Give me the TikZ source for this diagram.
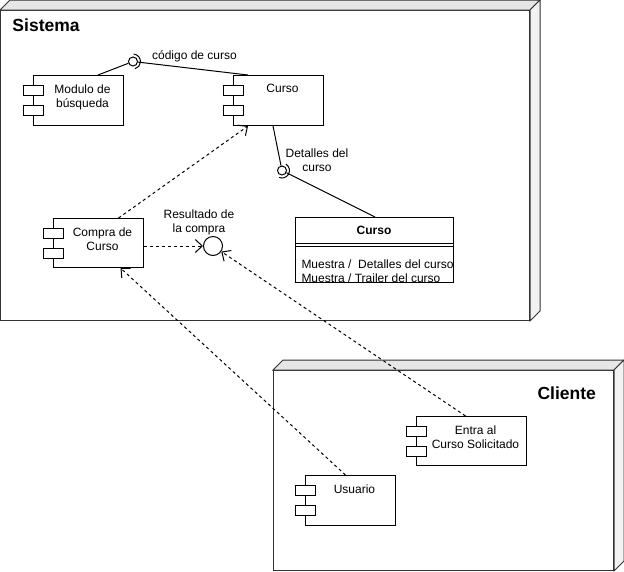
\documentclass[tikz,border=0pt]{standalone}
\usepackage{fontspec}
\setmainfont{Liberation Sans}
\usetikzlibrary{calc,arrows.meta}
\definecolor{topface}{HTML}{E6E6E6}
\definecolor{sideface}{HTML}{F2F2F2}
\definecolor{edge}{HTML}{333333}

% component: name, left x, top y, width, height, label
\newcommand\umlcomp[6]{%
  \node[box, anchor=north west, minimum width=#4pt, minimum height=#5pt] (#1) at (#2,#3) {};
  \node[tab] (#1-t1) at ($(#1.north west)+(0,15)$) {};
  \node[tab] (#1-t2) at ($(#1.north west)+(0,35)$) {};
  \node[txt, anchor=north] (#1-l) at ($(#1.north)+(4,9)$) {#6};
}

% 3D node: name, left x, top y of front face, width, height, depth
\newcommand\umlnode[6]{%
  \node[box, draw=edge, anchor=north west, minimum width=#4pt, minimum height=#5pt] (#1) at (#2,#3) {};
  \filldraw[fill=topface, draw=edge] (#1.north west) -- ++(#6,-#6) -- ($(#1.north east)+(#6,-#6)$) -- (#1.north east) -- cycle;
  \filldraw[fill=sideface, draw=edge] (#1.north east) -- ++(#6,-#6) -- ($(#1.south east)+(#6,-#6)$) -- (#1.south east) -- cycle;
}

\begin{document}
\begin{tikzpicture}[x=1pt, y=-1pt, line width=1pt,
  txt/.style={font=\fontsize{12}{14}\selectfont, inner sep=0pt, align=center},
  title/.style={font=\fontsize{17.5}{20}\selectfont\bfseries, inner sep=0pt},
  box/.style={draw, fill=white, rectangle, inner sep=0pt},
  tab/.style={draw, fill=white, rectangle, minimum width=20pt, minimum height=10pt, inner sep=0pt},
  ball/.style={draw, circle, fill=white, inner sep=0pt},
  dep/.style={dash pattern=on 3pt off 3pt, -{Straight Barb[length=7pt,width=13pt]}}]

\useasboundingbox (0,0) rectangle (624,571);

% deployment nodes
\umlnode{sistema}{0}{10}{529}{310}{10}
\node[title, anchor=base west] (sistema-l) at (12,31) {Sistema};
\umlnode{cliente}{273}{370}{340}{200}{10}
\node[title, anchor=base west] (cliente-l) at (537,399) {Cliente};

% components
\umlcomp{mod}{33}{75}{90}{50}{Modulo de\\búsqueda}
\umlcomp{cur}{233}{75}{90}{50}{Curso}
\umlcomp{comp}{53}{218}{90}{49}{Compra de\\Curso}
\umlcomp{ent}{416}{416}{110}{49}{Entra al\\Curso Solicitado}
\umlcomp{usr}{305}{475}{90}{50}{Usuario}

% class
\node[box, anchor=north west, minimum width=158pt, minimum height=65pt] (cls) at (295,217) {};
\node[txt, font=\fontsize{12}{14}\selectfont\bfseries] (cls-h) at (374,230.5) {Curso};
\draw ($(cls.north west)+(0,26)$) -- ($(cls.north east)+(0,26)$);
\draw ($(cls.north west)+(0,29)$) -- ($(cls.north east)+(0,29)$);
\node[txt, align=left, anchor=north west] (cls-a) at (301,259)
  {Muestra /\ \ Detalles del curso\\Muestra / Trailer del curso};

% interface: código de curso
\node[ball, minimum size=9pt] (b1) at (133,61.5) {};
\draw ($(mod.north west)+(65,0)$) -- (b1);
\draw (b1) -- ($(cur.north west)+(15,0)$);
\draw ($(b1)+(-85:7.5)$) arc[start angle=-85, end angle=75, radius=7.5];
\node[txt, anchor=base] (b1-l) at (194.5,59.5) {código de curso};

% interface: Detalles del curso
\node[ball, minimum size=9pt] (b2) at (282,170.5) {};
\draw ($(cur.south west)+(40,0)$) -- (b2);
\draw (b2) -- ($(cls.north west)+(80,0)$);
\draw ($(b2)+(-58:7.5)$) arc[start angle=-58, end angle=112, radius=7.5];
\node[txt, anchor=north] (b2-l) at (317,148) {Detalles del\\curso};

% interface: Resultado de la compra
\node[ball, minimum size=19pt] (res) at (213,246) {};
\node[txt, anchor=north] (res-l) at (199,209) {Resultado de\\la compra};

% dependencies
\draw[dep] ($(comp.north)+(20,0)$) -- ($(cur.south west)+(15,0)$);
\draw[dep] ($(comp.east)+(0,3)$) -- (res.west);
\draw[dep] ($(usr.north)+(-5,0)$) -- ($(comp.south)+(22,0)$);
\draw[dep] ($(ent.north)+(-6,0)$) -- (res);

\end{tikzpicture}
\end{document}
